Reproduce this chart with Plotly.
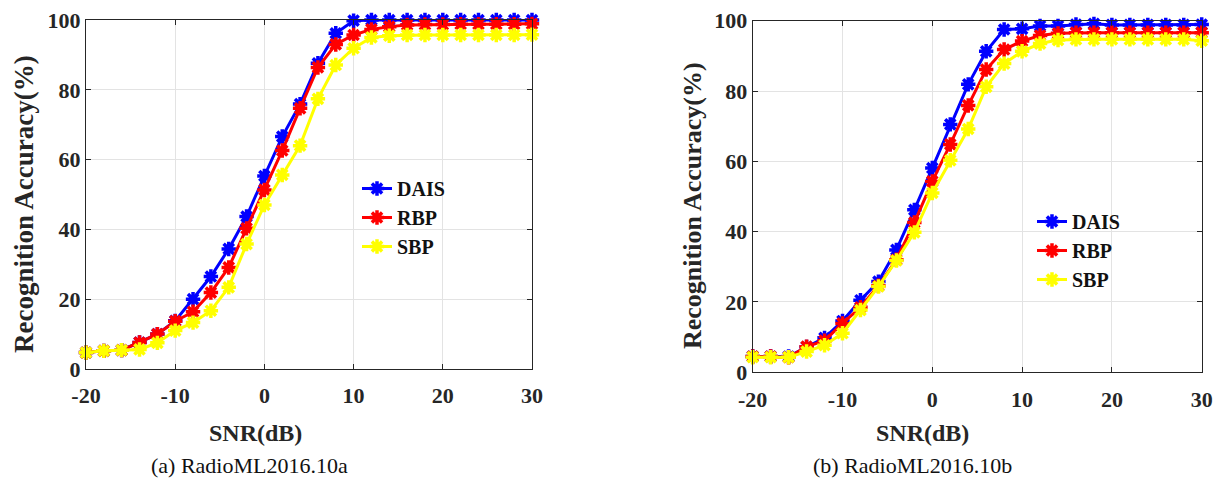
import plotly.graph_objects as go

W, H = 1224, 479

snr = [-20, -18, -16, -14, -12, -10, -8, -6, -4, -2, 0, 2, 4, 6, 8, 10,
       12, 14, 16, 18, 20, 22, 24, 26, 28, 30]

# (a) RadioML2016.10a
a_dais = [4.7, 5.2, 5.4, 7.6, 10.0, 13.8, 20.0, 26.5, 34.4, 43.7, 55.3, 66.6, 75.9,
          87.6, 96.2, 99.8, 100, 100, 100, 100, 100, 100, 100, 100, 100, 100]
a_rbp = [4.7, 5.2, 5.4, 7.6, 10.0, 13.7, 16.4, 21.9, 29.1, 40.3, 51.3, 62.6, 74.7,
         86.4, 93.0, 95.7, 97.3, 98.1, 98.6, 98.7, 98.7, 98.8, 98.8, 98.8, 98.8, 98.9]
a_sbp = [4.7, 5.2, 5.4, 5.6, 7.5, 11.0, 13.3, 16.7, 23.4, 35.8, 47.0, 55.6, 64.0,
         77.4, 87.1, 91.9, 95.0, 95.5, 95.7, 95.7, 95.7, 95.7, 95.7, 95.7, 95.7, 95.8]

# (b) RadioML2016.10b
b_dais = [4.5, 4.5, 4.5, 7.2, 9.8, 14.6, 20.5, 25.8, 34.8, 46.2, 58.1, 70.5, 81.9,
          91.3, 97.5, 97.7, 98.5, 98.5, 98.9, 99.1, 98.8, 98.8, 98.8, 98.8, 98.8, 98.9]
b_rbp = [4.5, 4.5, 4.3, 7.3, 9.0, 13.9, 18.5, 24.6, 32.0, 42.6, 54.3, 64.8, 75.9,
         86.1, 91.8, 94.2, 95.8, 96.4, 96.6, 96.6, 96.6, 96.6, 96.6, 96.6, 96.6, 96.6]
b_sbp = [4.3, 4.3, 4.3, 5.9, 7.7, 11.1, 17.7, 24.4, 31.8, 39.8, 51.0, 60.3, 69.2,
         81.2, 87.8, 91.3, 93.5, 94.5, 94.7, 94.7, 94.7, 94.7, 94.7, 94.7, 94.7, 94.3]

names = ["DAIS", "RBP", "SBP"]
colors = ["#0000FF", "#FF0000", "#FFFF00"]
x_ticks = [-20, -10, 0, 10, 20, 30]
x_tick_labels = ["-20", "-10", "0", "10", "20", "30"]
y_ticks = [0, 20, 40, 60, 80, 100]
y_tick_labels = ["0", "20", "40", "60", "80", "100"]

FONT = "Liberation Serif, Times New Roman, serif"

fig = go.Figure()

def add_series(series, xa, ya, legend):
    for name, vals, col in zip(names, series, colors):
        fig.add_trace(go.Scatter(
            x=snr, y=vals, name=name, mode="lines+markers",
            xaxis=xa, yaxis=ya, legend=legend, showlegend=True,
            cliponaxis=False,
            line=dict(color=col, width=3),
            marker=dict(symbol="asterisk", size=12, color=col,
                        line=dict(color=col, width=3.5)),
        ))

add_series([a_dais, a_rbp, a_sbp], "x", "y", "legend")
add_series([b_dais, b_rbp, b_sbp], "x2", "y2", "legend2")

tickfont = dict(family=FONT, size=22, color="#262626", weight="bold")
axis_common = dict(showgrid=True, gridcolor="#e3e3e3", gridwidth=1,
                   ticks="inside", ticklen=5, tickcolor="#262626",
                   showline=True, linecolor="#262626", linewidth=1,
                   mirror="ticks", zeroline=False, tickfont=tickfont,
                   automargin=False, tickmode="array")

def px_x(p):
    return p / W

def px_y(p):
    return 1 - p / H

legend_font = dict(family=FONT, size=20, color="#111111", weight="bold")

fig.update_layout(
    width=W, height=H,
    margin=dict(l=0, r=0, t=0, b=0, autoexpand=False),
    paper_bgcolor="white", plot_bgcolor="white",
    xaxis=dict(domain=[px_x(86), px_x(532)], range=[-20, 30], tickvals=x_ticks,
               ticktext=x_tick_labels, anchor="y", ticklabelstandoff=7, **axis_common),
    yaxis=dict(domain=[px_y(369), px_y(20)], range=[0, 100], tickvals=y_ticks,
               ticktext=y_tick_labels, anchor="x", **axis_common),
    xaxis2=dict(domain=[px_x(752.7), px_x(1201.7)], range=[-20, 30], tickvals=x_ticks,
                ticktext=x_tick_labels, anchor="y2", ticklabelstandoff=7, **axis_common),
    yaxis2=dict(domain=[px_y(372.3), px_y(20.7)], range=[0, 100], tickvals=y_ticks,
                ticktext=y_tick_labels, anchor="x2", **axis_common),
    legend=dict(x=px_x(357), y=px_y(169), xanchor="left", yanchor="top",
                bgcolor="rgba(0,0,0,0)", borderwidth=0, font=legend_font),
    legend2=dict(x=px_x(1032), y=px_y(202), xanchor="left", yanchor="top",
                 bgcolor="rgba(0,0,0,0)", borderwidth=0, font=legend_font),
)

title_font = dict(family=FONT, size=24, color="#262626", weight="bold")
ytitle_font_a = dict(family=FONT, size=27, color="#262626", weight="bold")
ytitle_font_b = dict(family=FONT, size=26, color="#262626", weight="bold")
cap_font = dict(family=FONT, size=22, color="#111111")

annots = [
    dict(text="SNR(dB)", x=px_x(255), y=px_y(433), font=title_font),
    dict(text="SNR(dB)", x=px_x(922), y=px_y(433), font=title_font),
    dict(text="(a) RadioML2016.10a", x=px_x(249), y=px_y(465), font=cap_font),
    dict(text="(b) RadioML2016.10b", x=px_x(912), y=px_y(465), font=cap_font),
    dict(text="Recognition Accuracy(%)", x=px_x(24), y=px_y(204), font=ytitle_font_a,
         textangle=-90),
    dict(text="Recognition Accuracy(%)", x=px_x(692), y=px_y(206), font=ytitle_font_b,
         textangle=-90),
]
for a in annots:
    fig.add_annotation(xref="paper", yref="paper", xanchor="center", yanchor="middle",
                       showarrow=False, **a)

fig.write_html("out.html", config={"displayModeBar": False},
               post_script="document.body.style.margin='0';document.body.style.overflow='hidden';")
